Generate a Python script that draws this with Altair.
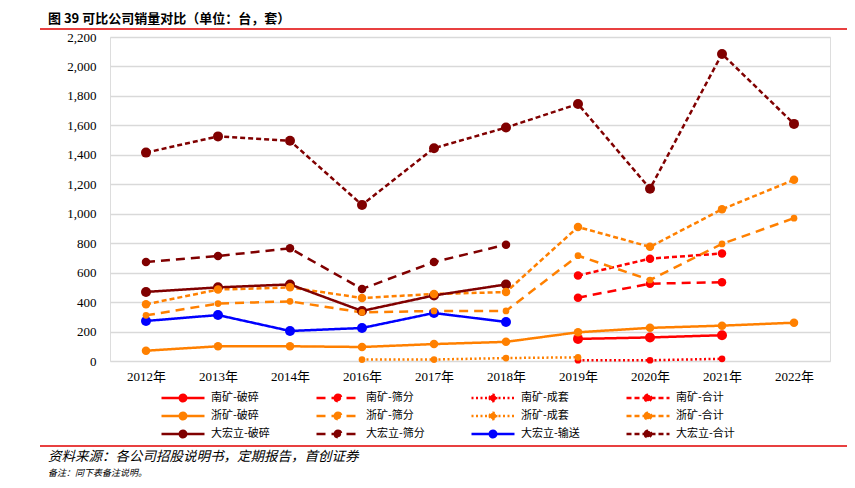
import altair as alt
import pandas as pd

# ---------------- data ----------------
years = ["2012年", "2013年", "2014年", "2016年", "2017年",
         "2018年", "2019年", "2020年", "2021年", "2022年"]

series_names = ["南矿-破碎", "南矿-筛分", "南矿-成套", "南矿-合计",
                "浙矿-破碎", "浙矿-筛分", "浙矿-成套", "浙矿-合计",
                "大宏立-破碎", "大宏立-筛分", "大宏立-输送", "大宏立-合计"]

nk_posui = [None, None, None, None, None, None, 150, 160, 175, None]
nk_shaifen = [None, None, None, None, None, None, 430, 525, 535, None]
nk_chengtao = [None, None, None, None, None, None, 5, 5, 15, None]
nk_heji = [None, None, None, None, None, None, 580, 695, 730, None]

zk_posui = [70, 100, 100, 95, 115, 130, 195, 225, 240, 260]
zk_shaifen = [310, 390, 405, 330, 340, 340, 715, 550, 795, 970]
zk_chengtao = [None, None, None, 10, 10, 20, 25, None, None, None]
zk_heji = [385, 485, 500, 428, 455, 468, 910, 775, 1030, 1230]

dhl_posui = [469, 500, 520, 340, 445, 520, None, None, None, None]
dhl_shaifen = [672, 713, 765, 489, 672, 790, None, None, None, None]
dhl_shusong = [272, 312, 204, 224, 326, 265, None, None, None, None]
dhl_heji = [1415, 1525, 1495, 1060, 1445, 1585, 1745, 1170, 2085, 1610]

series_values = [nk_posui, nk_shaifen, nk_chengtao, nk_heji,
                 zk_posui, zk_shaifen, zk_chengtao, zk_heji,
                 dhl_posui, dhl_shaifen, dhl_shusong, dhl_heji]

y_ticks = [0, 200, 400, 600, 800, 1000, 1200, 1400, 1600, 1800, 2000, 2200]

title_text = ["图 39 可比公司销量对比（单位：台，套）"]
source_text = ["资料来源：各公司招股说明书，定期报告，首创证券"]
note_text = ["备注：同下表备注说明。"]

# ---------------- styles ----------------
RED = "#FF0000"
ORANGE = "#FF8000"
DARK = "#800000"
BLUE = "#0000FF"
colors = [RED, RED, RED, RED,
          ORANGE, ORANGE, ORANGE, ORANGE,
          DARK, DARK, BLUE, DARK]
SOLID, DASH, DOT, SHORT = [1, 0], [9, 6], [2, 2.5], [5, 3]
dashes = [SOLID, DASH, DOT, SHORT,
          SOLID, DASH, DOT, SHORT,
          SOLID, DASH, SOLID, SHORT]
big_markers = ["南矿-破碎", "大宏立-破碎", "大宏立-输送", "大宏立-合计"]
mid_markers = ["南矿-筛分", "南矿-合计", "大宏立-筛分", "浙矿-破碎", "浙矿-合计"]
small_markers = ["南矿-成套", "浙矿-筛分", "浙矿-成套"]

rows = []
for name, vals in zip(series_names, series_values):
    for yr, v in zip(years, vals):
        if v is not None:
            rows.append({"year": yr, "series": name, "value": v})
df = pd.DataFrame(rows)

SERIF = "Liberation Serif, Noto Sans CJK SC"
CJK = "Noto Sans CJK SC"

legend_path = ("M-1,0H1M-0.15,0A0.15,0.15,0,1,1,0.15,0"
               "A0.15,0.15,0,1,1,-0.15,0Z")

x_enc = alt.X("year:N", sort=years,
              scale=alt.Scale(domain=years, padding=0.5),
              axis=alt.Axis(title=None, labelAngle=0, ticks=False, domain=False,
                            grid=False, labelFont=SERIF, labelFontSize=13,
                            labelColor="#000000", labelPadding=9))
y_enc = alt.Y("value:Q",
              scale=alt.Scale(domain=[0, 2200], nice=False),
              axis=alt.Axis(title=None, values=y_ticks, format=",.0f", ticks=False,
                            domain=False, gridColor="#D9D9D9", gridWidth=1.5,
                            labelFont=SERIF, labelFontSize=13,
                            labelColor="#000000", labelPadding=14))

legend = alt.Legend(title=None, orient="none", legendX=50, legendY=353,
                    direction="horizontal",
                    columns=4, columnPadding=45, rowPadding=2, clipHeight=16,
                    symbolType=legend_path, symbolSize=1849,
                    symbolStrokeWidth=2.5, labelFont=CJK, labelFontSize=11,
                    labelColor="#000000", labelOffset=5)

color_enc = alt.Color("series:N", sort=series_names,
                      scale=alt.Scale(domain=series_names, range=colors),
                      legend=legend)

lines = alt.Chart(df).mark_line(strokeWidth=2.5).encode(
    x=x_enc, y=y_enc, color=color_enc,
    strokeDash=alt.StrokeDash("series:N", sort=series_names,
                              scale=alt.Scale(domain=series_names, range=dashes),
                              legend=legend),
)


def point_layer(names, size):
    return alt.Chart(df).mark_point(filled=True, opacity=1, size=size).encode(
        x=x_enc, y=y_enc, color=color_enc,
    ).transform_filter(alt.FieldOneOfPredicate(field="series", oneOf=names))


points_big = point_layer(big_markers, 100)
points_mid = point_layer(mid_markers, 72)
points_small = point_layer(small_markers, 45)

title = alt.Chart(pd.DataFrame({"t": title_text})).mark_text(
    align="left", baseline="middle", font=CJK, fontSize=13, fontWeight="bold",
    color="#000000").encode(x=alt.value(-62), y=alt.value(-18.5), text="t:N")

title_rule = alt.Chart(pd.DataFrame({"t": title_text})).mark_rule(
    color="#E00000", strokeWidth=1.5).encode(
    x=alt.value(-70), x2=alt.value(740), y=alt.value(-8))

foot_rule = alt.Chart(pd.DataFrame({"t": source_text})).mark_rule(
    color="#E00000", strokeWidth=1.5).encode(
    x=alt.value(-70), x2=alt.value(740), y=alt.value(409))

source = alt.Chart(pd.DataFrame({"t": source_text})).mark_text(
    align="left", baseline="middle", font=CJK, fontSize=13.5, fontStyle="italic",
    color="#000000").encode(x=alt.value(-62), y=alt.value(420), text="t:N")

note = alt.Chart(pd.DataFrame({"t": note_text})).mark_text(
    align="left", baseline="middle", font=CJK, fontSize=9, fontStyle="italic",
    color="#000000").encode(x=alt.value(-62), y=alt.value(436), text="t:N")

chart = alt.layer(lines, points_big, points_mid, points_small,
                  title, title_rule, foot_rule, source, note).properties(
    width=720, height=324,
    autosize=alt.AutoSizeParams(type="none"),
    padding={"left": 102, "top": 29, "right": 17, "bottom": 117},
).configure_view(stroke=None).configure(background="white")

chart.save("out.html", embed_options={"renderer": "svg", "actions": False})
